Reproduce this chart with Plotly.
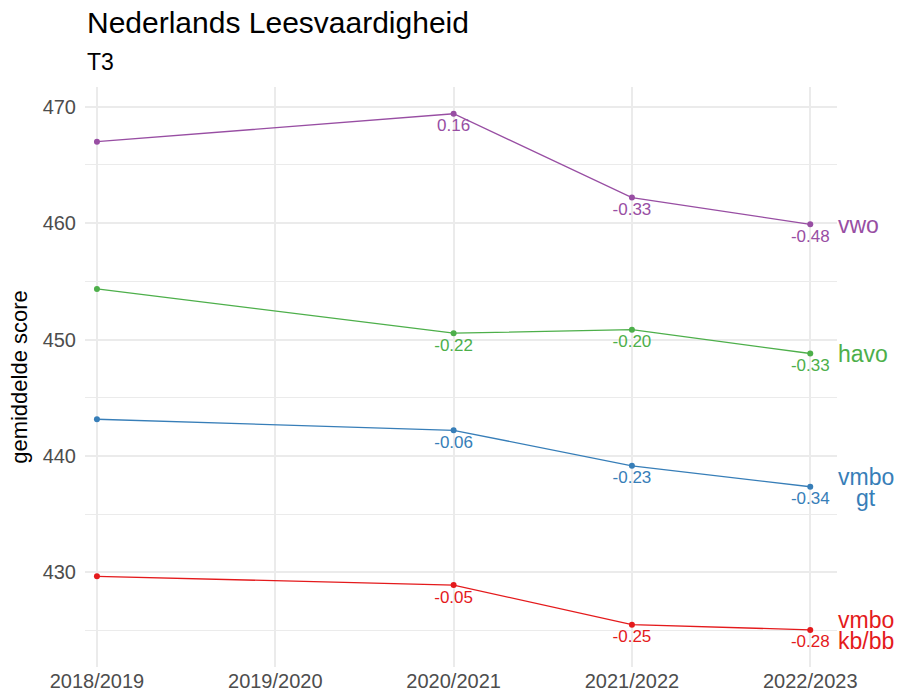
import plotly.graph_objects as go

seasons = ["2018/2019", "2019/2020", "2020/2021", "2021/2022", "2022/2023"]
season_pos = [2018, 2019, 2020, 2021, 2022]
data_pos = [2018, 2020, 2021, 2022]

groups = ["vwo", "havo", "vmbo\ngt", "vmbo\nkb/bb"]
colors = ["#984EA3", "#4DAF4A", "#377EB8", "#E41A1C"]

vwo = [467.0, 469.4, 462.2, 459.9]
havo = [454.35, 450.55, 450.85, 448.8]
vmbo_gt = [443.15, 442.2, 439.15, 437.35]
vmbo_kbbb = [429.65, 428.9, 425.5, 425.05]
series = [vwo, havo, vmbo_gt, vmbo_kbbb]

vwo_lbl = ["", "0.16", "-0.33", "-0.48"]
havo_lbl = ["", "-0.22", "-0.20", "-0.33"]
gt_lbl = ["", "-0.06", "-0.23", "-0.34"]
kb_lbl = ["", "-0.05", "-0.25", "-0.28"]
labels = [vwo_lbl, havo_lbl, gt_lbl, kb_lbl]

FONT = "Liberation Sans, Arial, sans-serif"
END_SIZE = 23

# approximate Arial advance widths (em) for centering multi-line end labels
_W = {"v": .5, "w": .722, "o": .556, "h": .556, "a": .556, "m": .833, "b": .556,
      "g": .556, "t": .278, "k": .5, "/": .278}


def text_width(s, size):
    return sum(_W.get(ch, .556) for ch in s) * size


fig = go.Figure()
annotations = []
for g, c, ys, lb in zip(groups, colors, series, labels):
    fig.add_trace(go.Scatter(
        x=data_pos, y=ys, mode="lines+markers+text",
        line=dict(color=c, width=1.3), marker=dict(color=c, size=6),
        text=lb, textposition="bottom center",
        textfont=dict(color=c, size=17, family=FONT),
        showlegend=False, cliponaxis=False, hoverinfo="skip",
    ))
    parts = g.split("\n")
    n = len(parts)
    wmax = max(text_width(p, END_SIZE) for p in parts)
    for i, p in enumerate(parts):
        shift = ((n - 1) / 2 - i) * 21
        annotations.append(dict(
            x=data_pos[-1], y=ys[-1], xref="x", yref="y",
            text=p, showarrow=False, xanchor="center", yanchor="middle",
            xshift=28 + wmax / 2, yshift=shift - 1,
            font=dict(color=c, size=END_SIZE, family=FONT),
        ))

annotations.append(dict(text="Nederlands Leesvaardigheid", xref="paper", yref="paper",
                        x=0, y=1.112, xanchor="left", yanchor="middle", showarrow=False,
                        font=dict(size=30, color="black", family=FONT)))
annotations.append(dict(text="T3", xref="paper", yref="paper",
                        x=0, y=1.043, xanchor="left", yanchor="middle", showarrow=False,
                        font=dict(size=23, color="black", family=FONT)))

fig.update_layout(
    width=901, height=696,
    margin=dict(l=85, r=64, t=87, b=29),
    plot_bgcolor="white", paper_bgcolor="white",
    annotations=annotations,
    font=dict(family=FONT),
    xaxis=dict(
        range=[2017.933, 2022.15], tickvals=season_pos, ticktext=seasons,
        showgrid=True, gridcolor="#EBEBEB", gridwidth=1.5, zeroline=False,
        tickfont=dict(size=20, color="#4D4D4D"), showline=False, ticks="",
        automargin=False,
    ),
    yaxis=dict(
        range=[421.86, 471.7], tickvals=[430, 440, 450, 460, 470],
        showgrid=True, gridcolor="#EBEBEB", gridwidth=1.5, zeroline=False,
        tickfont=dict(size=20, color="#4D4D4D"), showline=False, ticks="",
        ticklabelstandoff=8, automargin=False,
        minor=dict(tickvals=[425, 435, 445, 455, 465], showgrid=True,
                   gridcolor="#EBEBEB", gridwidth=1.2),
        title=dict(text="gemiddelde score", font=dict(size=22, color="black"), standoff=8),
    ),
)

fig.write_html("out.html", config={"displayModeBar": False},
               post_script="document.body.style.margin='0';document.body.style.overflow='hidden';")
